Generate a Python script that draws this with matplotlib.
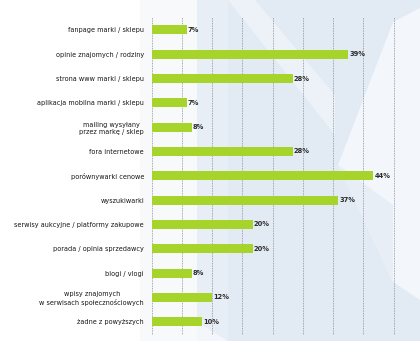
import matplotlib.pyplot as plt
from matplotlib.patches import Polygon

categories = [
    "fanpage marki / sklepu",
    "opinie znajomych / rodziny",
    "strona www marki / sklepu",
    "aplikacja mobilna marki / sklepu",
    "mailing wysyłany\nprzez markę / sklep",
    "fora internetowe",
    "porównywarki cenowe",
    "wyszukiwarki",
    "serwisy aukcyjne / platformy zakupowe",
    "porada / opinia sprzedawcy",
    "blogi / vlogi",
    "wpisy znajomych\nw serwisach społecznościowych",
    "żadne z powyższych",
]
values = [7, 39, 28, 7, 8, 28, 44, 37, 20, 20, 8, 12, 10]
grid_ticks = [0, 6, 12, 18, 24, 30, 36, 42, 48]

W, H = 420, 341
fig = plt.figure(figsize=(W / 100, H / 100), dpi=100)
fig.patch.set_facecolor("white")

# decorative background, pixel coords with y from the top
bgax = fig.add_axes([0, 0, 1, 1], zorder=-1)
bgax.set_xlim(0, W)
bgax.set_ylim(H, 0)
bgax.axis("off")

def bg(points, color):
    bgax.add_patch(Polygon(points, closed=True, facecolor=color, edgecolor="none"))

bg([(140, 0), (197, 0), (197, 341), (140, 341)], "#f7f9fb")
bg([(197, 0), (420, 0), (420, 341), (197, 341)], "#e2eaf3")
bg([(197, 0), (228, 0), (228, 341), (197, 341)], "#e8eef6")
bg([(228, 0), (255, 0), (335, 95), (335, 135)], "#edf2f8")
bg([(393, 22), (420, 8), (420, 300), (393, 282), (338, 165)], "#f3f6fa")
bg([(338, 165), (393, 205), (393, 282)], "#e8eef6")
bg([(197, 341), (197, 322), (228, 341)], "#f3f6fa")

ax = fig.add_axes([151.7 / W, 1 - 335 / H, 1 - 151.7 / W, (335 - 17) / H])
ax.set_facecolor("none")

y = list(range(len(categories)))
ax.barh(y, values, height=0.37, color="#a6d42a", zorder=3)

for yi, v in zip(y, values):
    ax.text(v + 0.2, yi, f"{v}%", va="center", ha="left", fontsize=4.8,
            fontweight="bold", color="#2b2b2b", zorder=4)

for t in grid_ticks:
    ax.axvline(t, color="#8a909a", linestyle=(0, (1, 1)), linewidth=0.6, zorder=1)

ax.set_xlim(0, (W - 151.7) / 5.04)
ax.set_ylim(len(categories) - 0.45, -0.53)
ax.set_yticks(y)
ax.set_yticklabels(categories, fontsize=4.7, color="#161616",
                   linespacing=1.35, multialignment="center")
ax.tick_params(axis="y", length=0, pad=5.5)
ax.set_xticks([])
for s in ax.spines.values():
    s.set_visible(False)

fig.savefig("out.png", dpi=100)
